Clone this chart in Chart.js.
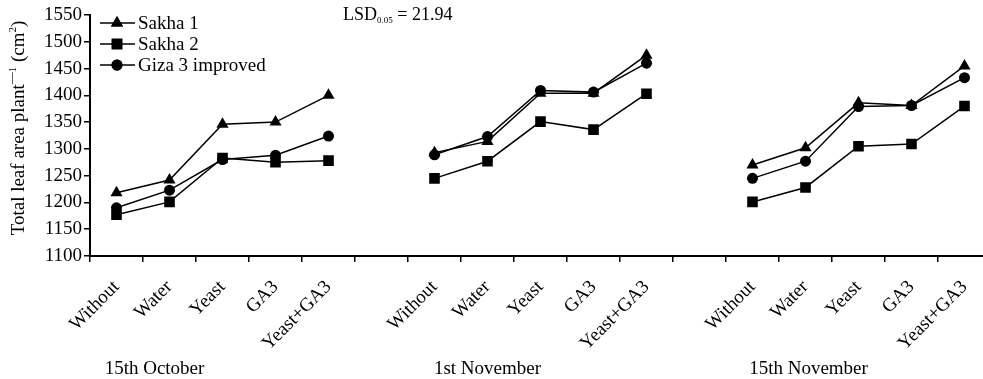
<!DOCTYPE html>
<html lang="en">
<head>
    <meta charset="UTF-8">
    <title>Total leaf area</title>
    <script src="https://cdn.jsdelivr.net/npm/chart.js"></script>
    <style>
        html, body { margin: 0; padding: 0; background: #fff; overflow: hidden; }
        #wrap { width: 1000px; height: 379px; }
    </style>
</head>
<body>
    <div id="wrap"><canvas id="leafChart" width="1000" height="379"></canvas></div>

    <script>
        // categories (blank slots separate the sowing dates)
        const categories = ['Without', 'Water', 'Yeast', 'GA3', 'Yeast+GA3', '',
                            'Without', 'Water', 'Yeast', 'GA3', 'Yeast+GA3', '',
                            'Without', 'Water', 'Yeast', 'GA3', 'Yeast+GA3'];
        const sowingDates = ['15th October', '1st November', '15th November'];
        const yTicks = { min: 1100, max: 1550, step: 50 };

        const sakha1 = [1218, 1242, 1346, 1350, 1400, null,
                        1293, 1314, 1404, 1404, 1475, null,
                        1270, 1302, 1386, 1381, 1455];
        const sakha2 = [1177, 1201, 1283, 1275, 1278, null,
                        1245, 1277, 1351, 1336, 1403, null,
                        1201, 1228, 1305, 1309, 1380];
        const giza3 = [1190, 1223, 1280, 1288, 1324, null,
                       1289, 1323, 1409, 1406, 1460, null,
                       1245, 1277, 1379, 1381, 1433];

        const lsdValue = '21.94';

        const serif = '"Liberation Serif", "Times New Roman", serif';

        // write a run of [text, size, dy] pieces starting at x, return end x
        function writeRun(ctx, parts, x, y) {
            parts.forEach(p => {
                ctx.font = p[1] + 'px ' + serif;
                ctx.fillText(p[0], x, y + p[2]);
                x += ctx.measureText(p[0]).width;
            });
            return x;
        }

        // legend, LSD note, y title and date labels
        const extras = {
            id: 'extras',
            afterDraw(chart) {
                const ctx = chart.ctx;
                const x = chart.scales.x;
                ctx.save();
                ctx.fillStyle = '#000';
                ctx.strokeStyle = '#000';

                // legend
                const rows = [['Sakha 1', 'triangle', 23], ['Sakha 2', 'rect', 44], ['Giza 3 improved', 'circle', 65]];
                ctx.font = '19px ' + serif;
                ctx.textBaseline = 'middle';
                rows.forEach(r => {
                    ctx.lineWidth = 1.5;
                    ctx.beginPath();
                    ctx.moveTo(100, r[2]);
                    ctx.lineTo(135, r[2]);
                    ctx.stroke();
                    const rad = r[1] === 'triangle' ? 7 : (r[1] === 'rect' ? 7.5 : 5.5);
                    Chart.helpers.drawPoint(ctx, { pointStyle: r[1], radius: rad, borderWidth: 0 }, 117, r[2]);
                    ctx.fill();
                    ctx.fillText(r[0], 138, r[2] + 1);
                });

                // LSD
                ctx.textBaseline = 'alphabetic';
                ctx.textAlign = 'left';
                writeRun(ctx, [['LSD', 18, 0], ['0.05', 9, 3], [' = ' + lsdValue, 18, 0]], 343, 20);

                // y title
                ctx.save();
                ctx.translate(24, 128);
                ctx.rotate(-Math.PI / 2);
                const parts = [['Total leaf area plant', 19, 0], ['\u2014', 12, -9], ['1', 11, -8],
                               [' (cm', 19, 0], ['2', 11, -8], [')', 19, 0]];
                let total = 0;
                parts.forEach(p => { ctx.font = p[1] + 'px ' + serif; total += ctx.measureText(p[0]).width; });
                writeRun(ctx, parts, -total / 2, 0);
                ctx.restore();

                // sowing dates
                ctx.font = '19px ' + serif;
                ctx.textAlign = 'center';
                const offs = [[1, -15], [7, 0], [13, 3]];
                sowingDates.forEach((d, i) => {
                    ctx.fillText(d, x.getPixelForValue(offs[i][0]) + offs[i][1], 374);
                });
                ctx.restore();
            }
        };

        const common = {
            borderColor: '#000',
            backgroundColor: '#000',
            pointBackgroundColor: '#000',
            pointBorderColor: '#000',
            borderWidth: 1.5,
            pointBorderWidth: 0,
            spanGaps: false,
            tension: 0
        };

        new Chart(document.getElementById('leafChart'), {
            type: 'line',
            data: {
                labels: categories,
                datasets: [
                    Object.assign({ label: 'Sakha 1', data: sakha1, pointStyle: 'triangle', pointRadius: 7 }, common),
                    Object.assign({ label: 'Sakha 2', data: sakha2, pointStyle: 'rect', pointRadius: 7.5 }, common),
                    Object.assign({ label: 'Giza 3 improved', data: giza3, pointStyle: 'circle', pointRadius: 5.5 }, common)
                ]
            },
            options: {
                responsive: false,
                animation: false,
                events: [],
                layout: { padding: { top: 15, right: 9, left: 0, bottom: 0 } },
                plugins: { legend: { display: false }, tooltip: { enabled: false } },
                scales: {
                    x: {
                        offset: true,
                        grid: { offset: true, drawOnChartArea: false, tickLength: 6, color: '#000', lineWidth: 1.5 },
                        border: { color: '#000', width: 2 },
                        ticks: {
                            autoSkip: false, minRotation: 45, maxRotation: 45, padding: 14,
                            color: '#000', font: { family: serif, size: 19 }
                        },
                        afterFit(s) { s.height = 123; }
                    },
                    y: {
                        min: yTicks.min, max: yTicks.max,
                        grid: { drawOnChartArea: false, tickLength: 6, color: '#000', lineWidth: 1.5 },
                        border: { color: '#000', width: 2 },
                        ticks: {
                            stepSize: yTicks.step, padding: 2, color: '#000',
                            font: { family: serif, size: 19 },
                            callback: v => String(v)
                        },
                        afterFit(s) { s.width = 90; }
                    }
                }
            },
            plugins: [extras]
        });
    </script>
</body>
</html>
